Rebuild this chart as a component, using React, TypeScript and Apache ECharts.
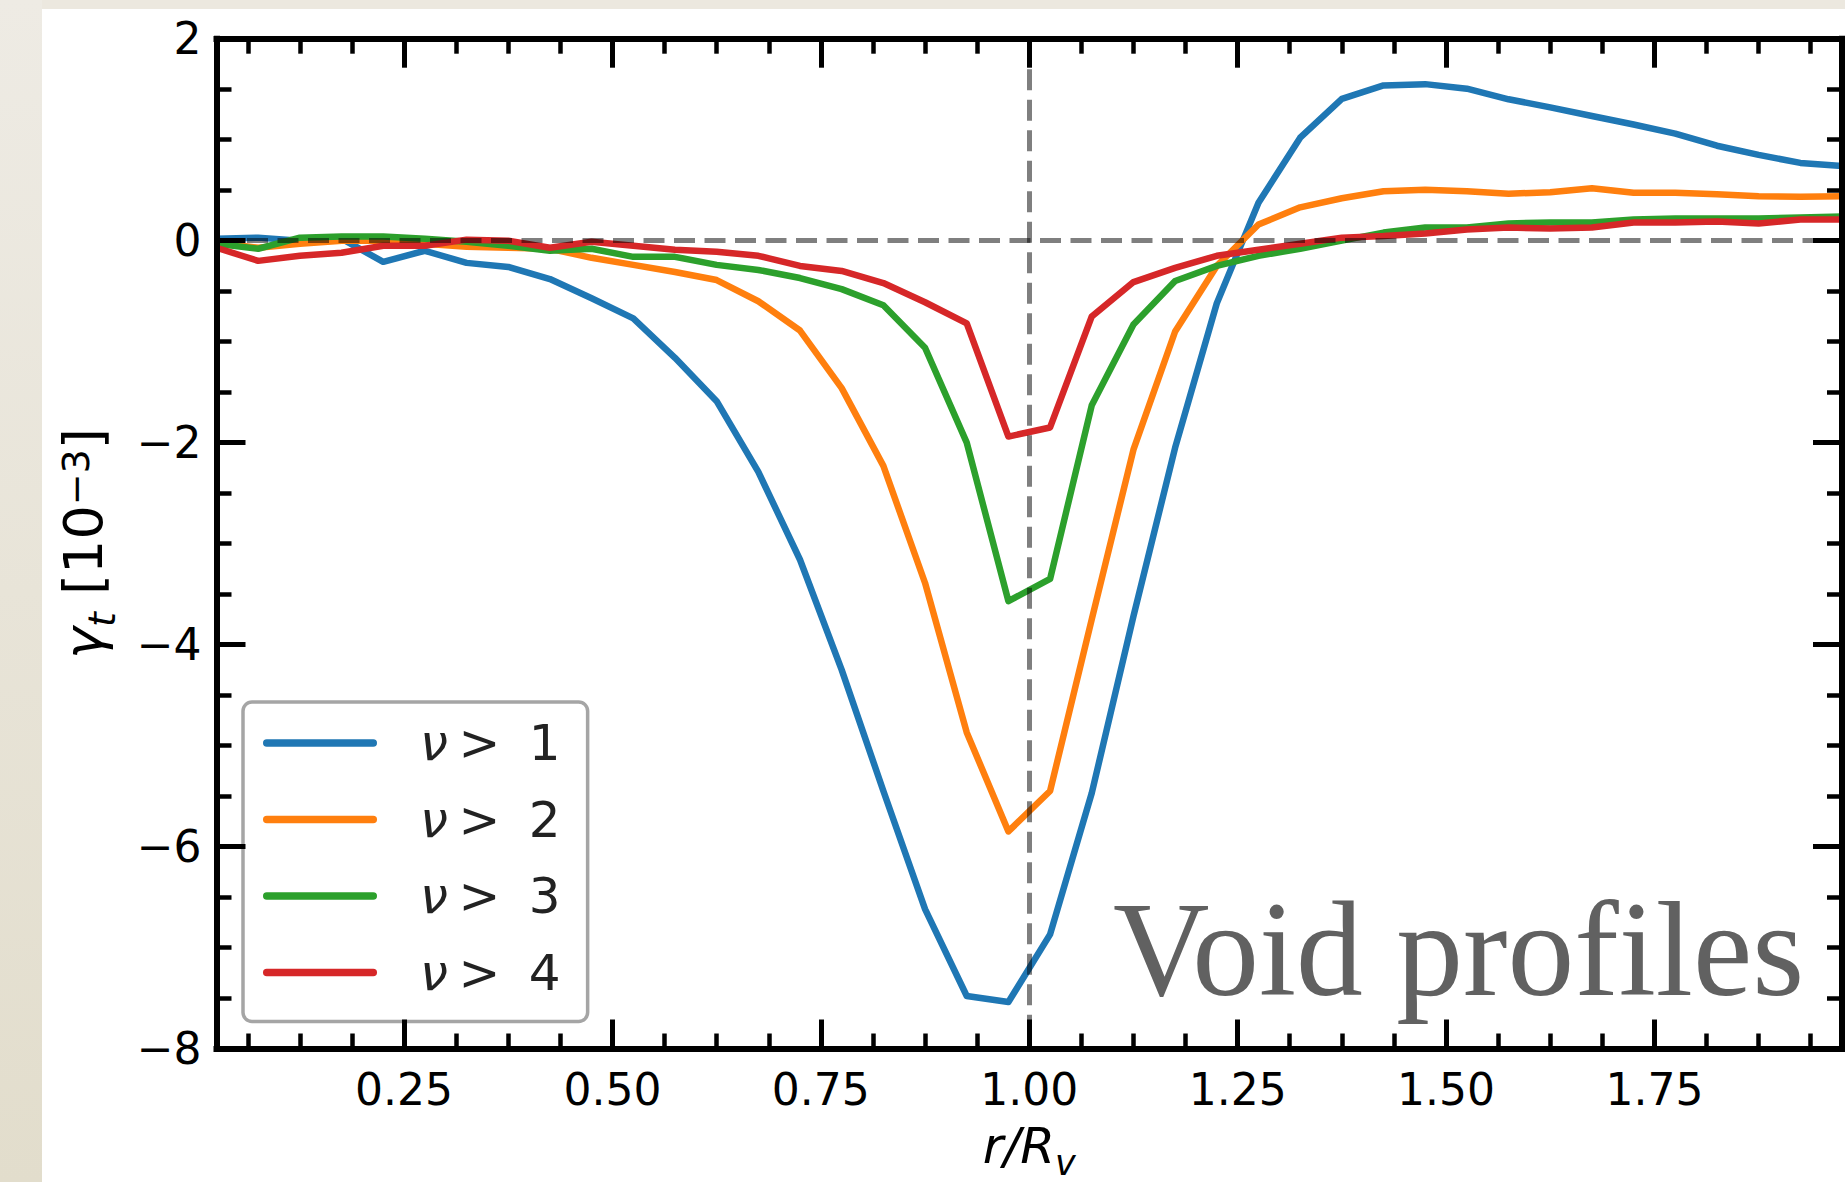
import React, { useEffect, useRef } from 'react';
import * as echarts from 'echarts';

// ---------- data ----------
const rValues = [
  0.025, 0.075, 0.125, 0.175, 0.225, 0.275, 0.325, 0.375, 0.425, 0.475,
  0.525, 0.575, 0.625, 0.675, 0.725, 0.775, 0.825, 0.875, 0.925, 0.975,
  1.025, 1.075, 1.125, 1.175, 1.225, 1.275, 1.325, 1.375, 1.425, 1.475,
  1.525, 1.575, 1.625, 1.675, 1.725, 1.775, 1.825, 1.875, 1.925, 1.975,
];

const gammaNu1 = [
  0.02, 0.03, 0.0, 0.02, -0.21, -0.1, -0.22, -0.26, -0.38, -0.57,
  -0.77, -1.16, -1.59, -2.29, -3.16, -4.25, -5.45, -6.62, -7.48, -7.54,
  -6.87, -5.47, -3.72, -2.05, -0.62, 0.375, 1.02, 1.405, 1.537, 1.55,
  1.505, 1.4, 1.32, 1.235, 1.15, 1.06, 0.94, 0.85, 0.77, 0.74,
];

const gammaNu2 = [
  -0.02, -0.07, -0.03, 0.0, 0.0, -0.03, -0.06, -0.07, -0.08, -0.17,
  -0.24, -0.31, -0.39, -0.6, -0.89, -1.46, -2.23, -3.39, -4.87, -5.85,
  -5.45, -3.75, -2.07, -0.9, -0.25, 0.16, 0.33, 0.42, 0.49, 0.505,
  0.49, 0.465, 0.48, 0.52, 0.475, 0.475, 0.46, 0.44, 0.435, 0.44,
];

const gammaNu3 = [
  -0.03, -0.08, 0.03, 0.04, 0.04, 0.02, -0.01, -0.05, -0.1, -0.08,
  -0.16, -0.16, -0.24, -0.29, -0.37, -0.48, -0.64, -1.06, -2.0, -3.57,
  -3.35, -1.63, -0.83, -0.4, -0.25, -0.15, -0.08, 0.0, 0.08, 0.13,
  0.13, 0.17, 0.18, 0.18, 0.21, 0.22, 0.22, 0.22, 0.23, 0.24,
];

const gammaNu4 = [
  -0.07, -0.2, -0.15, -0.12, -0.05, -0.05, 0.01, 0.0, -0.07, -0.01,
  -0.05, -0.09, -0.11, -0.15, -0.25, -0.3, -0.42, -0.61, -0.82, -1.94,
  -1.85, -0.75, -0.41, -0.27, -0.15, -0.09, -0.03, 0.03, 0.045, 0.07,
  0.11, 0.13, 0.12, 0.13, 0.18, 0.18, 0.19, 0.17, 0.21, 0.21,
];

const seriesNames = ['ν >  1', 'ν >  2', 'ν >  3', 'ν >  4'];
const seriesValues = [gammaNu1, gammaNu2, gammaNu3, gammaNu4];
const seriesColors = ['#1f77b4', '#ff7f0e', '#2ca02c', '#d62728'];

const xMajorTicks = [0.25, 0.5, 0.75, 1.0, 1.25, 1.5, 1.75];
const yMajorTicks = [-8, -6, -4, -2, 0, 2];
const X_MIN = 0.025;
const X_MAX = 1.975;
const Y_MIN = -8;
const Y_MAX = 2;
const X_MINOR_STEP = 0.0625;
const Y_MINOR_STEP = 0.5;
const refLineX = 1.0;
const refLineY = 0;

const annotationText = 'Void profiles';

// ---------- helpers ----------
function minorTicks(min: number, max: number, step: number, majors: number[]) {
  const out: number[] = [];
  const start = Math.ceil(min / step - 1e-9);
  const end = Math.floor(max / step + 1e-9);
  for (let i = start; i <= end; i++) {
    const v = +(i * step).toFixed(6);
    if (v <= min || v >= max) continue;
    if (majors.some((m) => Math.abs(m - v) < 1e-6)) continue;
    out.push(v);
  }
  return out;
}

const FONT = "'DejaVu Sans', sans-serif";
const xMinorTicks = minorTicks(X_MIN, X_MAX, X_MINOR_STEP, xMajorTicks);
const yMinorTicks = minorTicks(Y_MIN, Y_MAX, Y_MINOR_STEP, yMajorTicks);

const spine = { show: true, onZero: false, lineStyle: { color: '#000', width: 6, cap: 'square' as const } };
const noSpine = { show: false, onZero: false };
const majorTick = (values: number[]) => ({
  show: true,
  inside: true,
  length: 29,
  customValues: values,
  lineStyle: { color: '#000', width: 5 },
});
const minorTick = (values: number[]) => ({
  show: true,
  inside: true,
  length: 15,
  customValues: values,
  lineStyle: { color: '#000', width: 4.5 },
});

function buildOption() {
  const xBase = { type: 'value' as const, min: X_MIN, max: X_MAX, splitLine: { show: false }, z: 10 };
  const yBase = { type: 'value' as const, min: Y_MIN, max: Y_MAX, splitLine: { show: false }, z: 10 };

  const xAxis = [
    {
      ...xBase,
      position: 'bottom',
      offset: 0,
      axisLine: spine,
      axisTick: majorTick(xMajorTicks),
      axisLabel: {
        show: true,
        customValues: xMajorTicks,
        formatter: (v: number) => v.toFixed(2),
        fontFamily: FONT,
        fontSize: 44,
        color: '#000',
        margin: 19,
      },
      name: '{a|r/R}{b|v}',
      nameLocation: 'middle',
      nameGap: 72,
      nameTextStyle: {
        rich: {
          a: { fontFamily: FONT, fontSize: 50, fontStyle: 'italic', lineHeight: 60, verticalAlign: 'top', color: '#000' },
          b: { fontFamily: FONT, fontSize: 35, fontStyle: 'italic', lineHeight: 55, verticalAlign: 'bottom', color: '#000' },
        },
      },
    },
    { ...xBase, position: 'bottom', offset: 0, axisLine: noSpine, axisTick: minorTick(xMinorTicks), axisLabel: { show: false } },
    { ...xBase, position: 'top', offset: 0, axisLine: spine, axisTick: majorTick(xMajorTicks), axisLabel: { show: false } },
    { ...xBase, position: 'top', offset: 0, axisLine: noSpine, axisTick: minorTick(xMinorTicks), axisLabel: { show: false } },
  ];

  const yAxis = [
    {
      ...yBase,
      position: 'left',
      offset: 0,
      axisLine: spine,
      axisTick: majorTick(yMajorTicks),
      axisLabel: {
        show: true,
        customValues: yMajorTicks,
        formatter: (v: number) => (v < 0 ? '\u2212' + Math.abs(v) : String(v)),
        fontFamily: FONT,
        fontSize: 44,
        color: '#000',
        margin: 15,
      },
      name: '{g|γ}{s|t}{n| [10}{p|\u22123}{n|]}',
      nameLocation: 'middle',
      nameGap: 96,
      nameTextStyle: {
        rich: {
          g: { fontFamily: FONT, fontSize: 54, fontStyle: 'italic', lineHeight: 64, verticalAlign: 'top', color: '#000' },
          s: { fontFamily: FONT, fontSize: 38, fontStyle: 'italic', lineHeight: 38, verticalAlign: 'bottom', color: '#000' },
          n: { fontFamily: FONT, fontSize: 54, lineHeight: 64, verticalAlign: 'top', color: '#000' },
          p: { fontFamily: FONT, fontSize: 38, lineHeight: 38, verticalAlign: 'top', color: '#000' },
        },
      },
    },
    { ...yBase, position: 'left', offset: 0, axisLine: noSpine, axisTick: minorTick(yMinorTicks), axisLabel: { show: false } },
    { ...yBase, position: 'right', offset: 0, axisLine: spine, axisTick: majorTick(yMajorTicks), axisLabel: { show: false } },
    { ...yBase, position: 'right', offset: 0, axisLine: noSpine, axisTick: minorTick(yMinorTicks), axisLabel: { show: false } },
  ];

  const series: any[] = seriesNames.map((name, i) => ({
    type: 'line',
    name,
    xAxisIndex: 0,
    yAxisIndex: 0,
    data: rValues.map((r, k) => [r, seriesValues[i][k]]),
    symbol: 'none',
    showSymbol: false,
    color: seriesColors[i],
    lineStyle: { color: seriesColors[i], width: 6.5, join: 'round', cap: 'butt' },
    itemStyle: { color: seriesColors[i], borderWidth: 0 },
    emphasis: { disabled: true },
    z: 2,
  }));

  series[series.length - 1].markLine = {
    silent: true,
    symbol: ['none', 'none'],
    label: { show: false },
    emphasis: { disabled: true },
    lineStyle: { color: 'rgba(0,0,0,0.5)', width: 5, type: [21, 9.5] },
    data: [
      [{ coord: [X_MIN, refLineY] }, { coord: [X_MAX, refLineY] }],
      [{ coord: [refLineX, Y_MAX] }, { coord: [refLineX, Y_MIN] }],
    ],
  };

  return {
    animation: false,
    backgroundColor: '#ECE8DF',
    grid: {
      left: 216.5,
      right: 3,
      top: 38.7,
      bottom: 133.5,
      containLabel: false,
      outerBoundsMode: 'none',
    },
    xAxis,
    yAxis,
    legend: {
      show: true,
      orient: 'vertical',
      left: 243,
      top: 702,
      padding: [16, 27, 24, 20],
      itemWidth: 114,
      itemHeight: 7.5,
      itemGap: 26.5,
      backgroundColor: '#ffffff',
      borderColor: '#a5a5a5',
      borderWidth: 3.5,
      borderRadius: 9,
      z: 6,
      icon: 'path://M3.75,0 L110.25,0 A3.75,3.75 0 0 1 110.25,7.5 L3.75,7.5 A3.75,3.75 0 0 1 3.75,0 Z',
      itemStyle: { borderWidth: 0 },
      selectedMode: false,
      data: seriesNames,
      formatter: (name: string) => `{nu|ν}{gt|>}{num|${name.trim().slice(-1)}}`,
      textStyle: {
        rich: {
          nu: { fontFamily: FONT, fontSize: 50, fontStyle: 'italic', lineHeight: 50, color: '#222', padding: [0, 0, 0, 38] },
          gt: { fontFamily: FONT, fontSize: 50, lineHeight: 50, color: '#222', padding: [0, 0, 0, 10.5] },
          num: { fontFamily: FONT, fontSize: 50, lineHeight: 50, color: '#222', padding: [0, 0, 0, 28.5] },
        },
      },
    },
    graphic: [
      {
        type: 'rect',
        z: -100,
        silent: true,
        shape: { x: 0, y: 0, width: 42, height: 1182 },
        style: {
          fill: new echarts.graphic.LinearGradient(0, 0, 0, 1, [
            { offset: 0, color: '#EEEBE4' },
            { offset: 1, color: '#E2DDCC' },
          ]),
        },
      },
      {
        type: 'rect',
        z: -99,
        silent: true,
        shape: { x: 42, y: 9, width: 1803, height: 1173 },
        style: { fill: '#ffffff' },
      },
      {
        type: 'text',
        z: 50,
        silent: true,
        x: 1113,
        y: 949,
        scaleX: 0.982,
        style: {
          text: annotationText,
          fontFamily: "'Liberation Serif', 'Times New Roman', serif",
          fontSize: 136,
          fill: '#616161',
          align: 'left',
          verticalAlign: 'middle',
          textAlign: 'left',
          textVerticalAlign: 'middle',
        },
      },
    ],
    series,
  };
}

export default function App() {
  const ref = useRef<HTMLDivElement>(null);
  useEffect(() => {
    document.body.style.margin = '0';
    const chart = echarts.init(ref.current as HTMLDivElement, null, { renderer: 'svg' });
    chart.setOption(buildOption() as any);
    return () => chart.dispose();
  }, []);
  return <div ref={ref} style={{ width: 1845, height: 1182 }} />;
}
